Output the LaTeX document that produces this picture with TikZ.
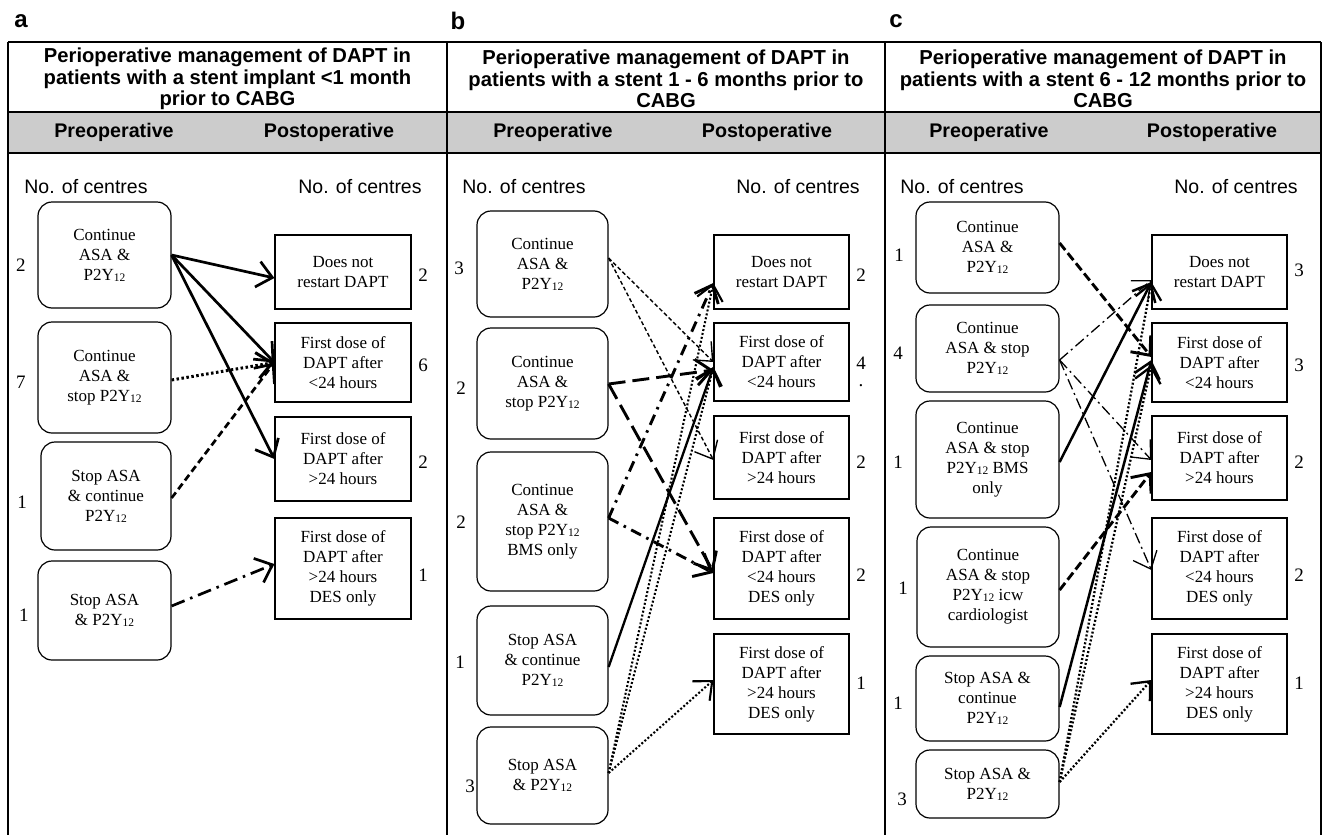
\documentclass[tikz,border=0pt]{standalone}
\usepackage{fontspec}
\setmainfont{Liberation Serif}
\setsansfont{Liberation Sans}
\usetikzlibrary{arrows.meta}
\definecolor{band}{RGB}{204,204,204}
\newcommand{\pyy}{P2Y\raisebox{-1pt}{\fontsize{11.5}{12}\selectfont 12}}
\begin{document}
\begin{tikzpicture}[x=1pt,y=-1pt,
  frame/.style={line width=1.8pt},
  lbl/.style={font=\sffamily\bfseries\fontsize{24}{26}\selectfont},
  ttl/.style={font=\sffamily\bfseries\fontsize{20.2}{21.5}\selectfont, align=center},
  hdr/.style={font=\sffamily\bfseries\fontsize{19.7}{21}\selectfont},
  noc/.style={font=\sffamily\fontsize{19.5}{21}\selectfont},
  cnt/.style={font=\fontsize{19}{21}\selectfont},
  prebox/.style={draw, rounded corners=14pt, line width=1.2pt, align=center, inner sep=0pt, font=\fontsize{17}{20}\selectfont},
  postbox/.style={draw, line width=1.2pt, align=center, inner sep=0pt, font=\fontsize{17}{20}\selectfont},
  tip/.style={-{Straight Barb[length=15pt,width=26pt]}},
  solidA/.style={tip, line width=2.7pt},
  dotA/.style={tip, line width=3pt, dash pattern=on 2.5pt off 2.5pt},
  dashA/.style={tip, line width=2.7pt, dash pattern=on 7pt off 4pt},
  dashdotA/.style={tip, line width=2.7pt, dash pattern=on 14pt off 6pt on 2.5pt off 6pt},
  thindash/.style={tip, line width=1.4pt, dash pattern=on 4pt off 2.5pt},
  longdash/.style={tip, line width=2.9pt, dash pattern=on 17pt off 7pt},
  dashdotB/.style={tip, line width=2.9pt, dash pattern=on 11pt off 6pt on 2.5pt off 6pt},
  solidB/.style={tip, line width=2.3pt},
  dotB/.style={tip, line width=2.1pt, dash pattern=on 2pt off 2pt},
  dashC/.style={tip, line width=2.9pt, dash pattern=on 9pt off 4pt},
  dashdotC/.style={tip, line width=1.3pt, dash pattern=on 11pt off 4pt on 2pt off 4pt},
  solidC/.style={tip, line width=2.5pt},
  dotC/.style={tip, line width=2.3pt, dash pattern=on 2pt off 2pt}
]
\useasboundingbox (0,0) rectangle (1325,835);
% ---------- frames ----------
\fill[band] (8,112) rectangle (1321,153);
\draw[frame] (8,42) -- (1321,42);
\draw[frame] (8,112) -- (1321,112);
\draw[frame] (8,153) -- (1321,153);
\draw[frame] (8,42) -- (8,835);
\draw[frame] (447,42) -- (447,835);
\draw[frame] (885,42) -- (885,835);
\draw[frame] (1321,42) -- (1321,835);
% ---------- labels & headers ----------
\node[lbl] (la) at (21,21) {a};
\node[lbl] (lb) at (458,21) {b};
\node[lbl] (lc) at (896,21) {c};
\node[ttl] (ta) at (227.5,79) {Perioperative management of DAPT in\\patients with a stent implant <1 month\\prior to CABG};
\node[ttl] (tb) at (666,79) {Perioperative management of DAPT in\\patients with a stent 1 - 6 months prior to\\CABG};
\node[ttl] (tc) at (1103,79) {Perioperative management of DAPT in\\patients with a stent 6 - 12 months prior to\\CABG};
\node[hdr] (hpa) at (114,132) {Preoperative};
\node[hdr] (hqa) at (329,132) {Postoperative};
\node[hdr] (hpb) at (553,132) {Preoperative};
\node[hdr] (hqb) at (767,132) {Postoperative};
\node[hdr] (hpc) at (989,132) {Preoperative};
\node[hdr] (hqc) at (1212,132) {Postoperative};
\node[noc] (na1) at (86,187) {No. of centres};
\node[noc] (na2) at (360,187) {No. of centres};
\node[noc] (nb1) at (524,187) {No. of centres};
\node[noc] (nb2) at (798,187) {No. of centres};
\node[noc] (nc1) at (962,187) {No. of centres};
\node[noc] (nc2) at (1236,187) {No. of centres};
% ---------- panel a ----------
\node[prebox, minimum width=133pt, minimum height=106pt] (a1) at (104.5,255) {Continue\\ASA \&\\\pyy};
\node[prebox, minimum width=133pt, minimum height=111pt] (a2) at (104.5,377.5) {Continue\\ASA \&\\stop \pyy};
\node[prebox, minimum width=130pt, minimum height=108pt] (a3) at (106,496) {Stop ASA\\\& continue\\\pyy};
\node[prebox, minimum width=133pt, minimum height=99pt] (a4) at (104.5,610.5) {Stop ASA\\\& \pyy};
\node[postbox, minimum width=136pt, minimum height=74pt] (A1) at (343,272) {Does not\\restart DAPT};
\node[postbox, minimum width=136pt, minimum height=79pt] (A2) at (343,362.5) {First dose of\\DAPT after\\<24 hours};
\node[postbox, minimum width=136pt, minimum height=84pt] (A3) at (343,459) {First dose of\\DAPT after\\>24 hours};
\node[postbox, minimum width=136pt, minimum height=101pt] (A4) at (343,568.5) {First dose of\\DAPT after\\>24 hours\\DES only};
\node[cnt] (ka1) at (21,265) {2};
\node[cnt] (ka2) at (21,382) {7};
\node[cnt] (ka3) at (22,502) {1};
\node[cnt] (ka4) at (24,615) {1};
\node[cnt] (kA1) at (423,275) {2};
\node[cnt] (kA2) at (423,365) {6};
\node[cnt] (kA3) at (423,462) {2};
\node[cnt] (kA4) at (423,575) {1};
\draw[solidA] (a1.east) -- ([yshift=-6pt]A1.west);
\draw[solidA] (a1.east) -- (A2.west);
\draw[solidA] (a1.east) -- (A3.west);
\draw[dotA] ([yshift=-2.5pt]a2.east) -- (A2.west);
\draw[dashA] ([yshift=-2pt]a3.east) -- (A2.west);
\draw[dashdotA] ([yshift=4.5pt]a4.east) -- ([yshift=4.5pt]A4.west);
% ---------- panel b ----------
\node[prebox, minimum width=131pt, minimum height=106pt] (b1) at (542.5,264) {Continue\\ASA \&\\\pyy};
\node[prebox, minimum width=131pt, minimum height=111pt] (b2) at (542.5,383.5) {Continue\\ASA \&\\stop \pyy};
\node[prebox, minimum width=131pt, minimum height=139pt] (b3) at (542.5,521.5) {Continue\\ASA \&\\stop \pyy\\BMS only};
\node[prebox, minimum width=131pt, minimum height=109pt] (b4) at (542.5,660.5) {Stop ASA\\\& continue\\\pyy};
\node[prebox, minimum width=131pt, minimum height=97pt] (b5) at (542.5,775.5) {Stop ASA\\\& \pyy};
\node[postbox, minimum width=135pt, minimum height=74pt] (B1) at (781.5,272) {Does not\\restart DAPT};
\node[postbox, minimum width=135pt, minimum height=78pt] (B2) at (781.5,362) {First dose of\\DAPT after\\<24 hours};
\node[postbox, minimum width=135pt, minimum height=83pt] (B3) at (781.5,457.5) {First dose of\\DAPT after\\>24 hours};
\node[postbox, minimum width=135pt, minimum height=101pt] (B4) at (781.5,568.5) {First dose of\\DAPT after\\<24 hours\\DES only};
\node[postbox, minimum width=135pt, minimum height=100pt] (B5) at (781.5,684) {First dose of\\DAPT after\\>24 hours\\DES only};
\node[cnt] (kb1) at (459,268) {3};
\node[cnt] (kb2) at (461,388) {2};
\node[cnt] (kb3) at (461,522) {2};
\node[cnt] (kb4) at (460,662) {1};
\node[cnt] (kb5) at (470,786) {3};
\node[cnt] (kB1) at (861,275) {2};
\node[cnt] (kB2) at (861,363) {4};
\node[cnt, inner sep=0pt] (kBd) at (861,386) {.};
\node[cnt] (kB3) at (861,462) {2};
\node[cnt] (kB4) at (861,575) {2};
\node[cnt] (kB5) at (861,683) {1};
\draw[thindash] ([yshift=6pt]b1.east) -- (B2.west);
\draw[thindash] ([yshift=6pt]b1.east) -- ([yshift=-2.5pt]B3.west);
\draw[longdash] ([yshift=-0.5pt]b2.east) -- ([yshift=-8pt]B2.west);
\draw[longdash] ([yshift=-0.5pt]b2.east) -- ([yshift=-3.5pt]B4.west);
\draw[dashdotB] ([yshift=3.5pt]b3.east) -- ([yshift=-11pt]B1.west);
\draw[dashdotB] ([yshift=3.5pt]b3.east) -- ([yshift=-4.5pt]B4.west);
\draw[solidB] ([yshift=-6.5pt]b4.east) -- ([yshift=-5pt]B2.west);
\draw[dotB] ([yshift=2.5pt]b5.east) -- ([yshift=-11pt]B1.west);
\draw[dotB] ([yshift=2.5pt]b5.east) -- ([yshift=-5pt]B2.west);
\draw[dotB] ([yshift=2.5pt]b5.east) -- ([yshift=4pt]B5.west);
% ---------- panel c ----------
\node[prebox, minimum width=143pt, minimum height=91pt] (c1) at (987.5,247.5) {Continue\\ASA \&\\\pyy};
\node[prebox, minimum width=143pt, minimum height=87pt] (c2) at (987.5,348.5) {Continue\\ASA \& stop\\\pyy};
\node[prebox, minimum width=143pt, minimum height=117pt] (c3) at (987.5,459.5) {Continue\\ASA \& stop\\\pyy{} BMS\\only};
\node[prebox, minimum width=142pt, minimum height=120pt] (c4) at (988,587) {Continue\\ASA \& stop\\\pyy{} icw\\cardiologist};
\node[prebox, minimum width=143pt, minimum height=85pt] (c5) at (987.5,698.5) {Stop ASA \&\\continue\\\pyy};
\node[prebox, minimum width=143pt, minimum height=68pt] (c6) at (987.5,784) {Stop ASA \&\\\pyy};
\node[postbox, minimum width=135pt, minimum height=74pt] (C1) at (1219.5,272) {Does not\\restart DAPT};
\node[postbox, minimum width=135pt, minimum height=79pt] (C2) at (1219.5,362.5) {First dose of\\DAPT after\\<24 hours};
\node[postbox, minimum width=135pt, minimum height=84pt] (C3) at (1219.5,458) {First dose of\\DAPT after\\>24 hours};
\node[postbox, minimum width=135pt, minimum height=101pt] (C4) at (1219.5,568.5) {First dose of\\DAPT after\\<24 hours\\DES only};
\node[postbox, minimum width=135pt, minimum height=100pt] (C5) at (1219.5,684) {First dose of\\DAPT after\\>24 hours\\DES only};
\node[cnt] (kc1) at (899,255) {1};
\node[cnt] (kc2) at (898,353) {4};
\node[cnt] (kc3) at (898,462) {1};
\node[cnt] (kc4) at (903,588) {1};
\node[cnt] (kc5) at (898,703) {1};
\node[cnt] (kc6) at (902,799) {3};
\node[cnt] (kC1) at (1299,270) {3};
\node[cnt] (kC2) at (1299,365) {3};
\node[cnt] (kC3) at (1299,462) {2};
\node[cnt] (kC4) at (1299,575) {2};
\node[cnt] (kC5) at (1299,683) {1};
\draw[dashC] ([yshift=4.5pt]c1.east) -- ([yshift=5.5pt]C2.west);
\draw[dashdotC] ([yshift=-11.5pt]c2.east) -- ([yshift=-8pt]C1.west);
\draw[dashdotC] ([yshift=-11.5pt]c2.east) -- ([yshift=-2pt]C3.west);
\draw[dashdotC] ([yshift=-11.5pt]c2.east) -- ([yshift=-1.5pt]C4.west);
\draw[solidC] ([yshift=-2.5pt]c3.east) -- ([yshift=-10pt]C1.west);
\draw[dashC] ([yshift=-3pt]c4.east) -- ([yshift=-14pt]C3.west);
\draw[solidC] ([yshift=-8.5pt]c5.east) -- ([yshift=2.5pt]C2.west);
\draw[dotC] ([yshift=2pt]c6.east) -- ([yshift=-10pt]C1.west);
\draw[dotC] ([yshift=2pt]c6.east) -- ([yshift=-2.5pt]C2.west);
\draw[dotC] ([yshift=2pt]c6.east) -- ([yshift=4pt]C5.west);
\end{tikzpicture}
\end{document}
